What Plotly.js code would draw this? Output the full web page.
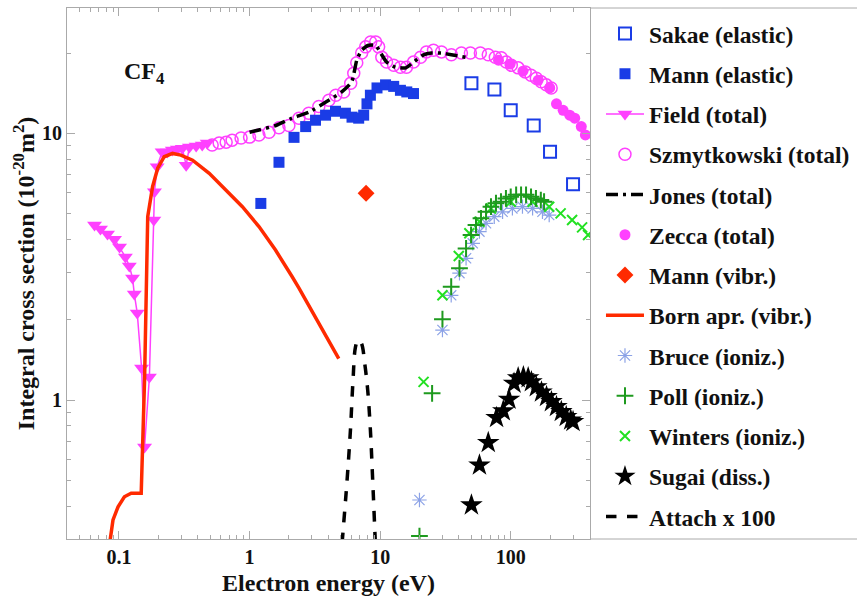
<!DOCTYPE html>
<html>
<head>
<meta charset="utf-8">
<script src="https://cdn.plot.ly/plotly-3.0.1.min.js"></script>
<style>html,body{margin:0;padding:0;background:#fff;}#chart{width:857px;height:596px;}</style>
</head>
<body>
<div id="chart"></div>
<script>
// ---- data (energy in eV, cross section in 1e-20 m^2) ----
const sakaeE = [50, 75, 100, 150, 200, 300];
const sakaeS = [15.4, 14.6, 12.2, 10.7, 8.53, 6.45];

const mannElE = [1.22, 1.68, 2.19, 2.69, 3.20, 3.82, 4.55, 5.42, 6.09, 6.85, 7.48, 7.93, 8.42, 9.46, 11.0, 12.7, 14.3, 16.0, 18.0];
const mannElS = [5.46, 7.79, 9.66, 10.6, 11.2, 11.7, 12.1, 11.9, 11.5, 11.4, 11.7, 12.9, 13.9, 14.8, 15.2, 15.0, 14.5, 14.3, 14.1];

const fieldE = [0.065, 0.0722, 0.0817, 0.0924, 0.101, 0.112, 0.120, 0.127, 0.131, 0.138, 0.149, 0.157, 0.171, 0.185, 0.187, 0.196, 0.214, 0.235, 0.256, 0.280, 0.305, 0.327, 0.346, 0.390, 0.434, 0.474];
const fieldS = [4.53, 4.38, 4.19, 4.01, 3.75, 3.44, 3.18, 2.87, 2.50, 2.12, 1.32, 0.667, 1.22, 4.73, 6.04, 7.50, 8.53, 8.51, 8.66, 8.73, 8.80, 7.6, 8.88, 8.96, 9.04, 9.20];

const szmE = [0.517, 0.585, 0.662, 0.735, 0.861, 1.0, 1.18, 1.41, 1.68, 2.0, 2.39, 2.84, 3.39, 4.05, 4.57, 5.26, 5.95, 6.28, 6.62, 7.22, 7.75, 8.46, 9.24, 9.74, 10.3, 11.2, 12.7, 14.3, 15.9, 18.0, 20.4, 22.6, 25.6, 29.5, 35.1, 41.9, 49.1, 58.5, 67.3, 76.2, 84.6, 92.4, 101, 114, 129, 143, 157, 171, 187, 204];
const szmS = [9.04, 9.20, 9.27, 9.43, 9.60, 9.68, 9.86, 10.1, 10.5, 10.7, 11.4, 11.9, 12.6, 13.3, 13.9, 14.3, 15.4, 16.8, 18.4, 20.0, 21.1, 22.0, 22.0, 21.1, 19.3, 18.5, 18.0, 17.7, 17.7, 18.5, 19.3, 20.2, 20.5, 20.2, 19.7, 20.0, 20.0, 20.0, 19.7, 19.3, 19.2, 18.5, 18.0, 17.6, 17.0, 16.5, 16.1, 15.6, 15.2, 14.8];

const jonesE = [1.0, 1.18, 1.59, 2.11, 2.84, 3.84, 5.08, 6.06, 6.62, 7.22, 8.17, 9.24, 10.1, 11.2, 13.1, 15.7, 18.0, 21.5, 24.7, 29.5, 35.1, 45.0];
const jonesS = [10.1, 10.3, 10.7, 11.4, 12.0, 13.1, 14.3, 15.6, 18.8, 20.5, 21.4, 21.4, 20.0, 18.5, 17.7, 17.6, 18.5, 19.7, 20.0, 20.0, 19.7, 19.3];

const zeccaE = [80.6, 99, 124, 162, 199, 224, 252, 283, 309, 347, 373];
const zeccaS = [18.8, 18.2, 17.1, 15.8, 14.8, 12.9, 12.2, 11.7, 11.4, 10.6, 9.86];

const mannVibE = [7.8];
const mannVibS = [5.96];

const bornE = [0.0857, 0.090, 0.0984, 0.110, 0.124, 0.148, 0.157, 0.163, 0.166, 0.181, 0.198, 0.222, 0.257, 0.298, 0.366, 0.491, 0.658, 0.881, 1.18, 1.58, 2.12, 2.39, 4.82];
const bornS = [0.30, 0.355, 0.398, 0.434, 0.447, 0.447, 1.19, 2.82, 4.87, 6.32, 7.40, 8.17, 8.41, 8.29, 7.93, 7.08, 6.13, 5.31, 4.47, 3.65, 2.90, 2.63, 1.43];

const bruceE = [20, 30, 35, 40.5, 45.5, 51.2, 57.6, 64.7, 74.8, 86.6, 103, 123, 147, 175, 197];
const bruceS = [0.422, 1.83, 2.47, 2.99, 3.40, 3.87, 4.28, 4.60, 4.87, 5.08, 5.23, 5.31, 5.23, 5.08, 4.94];

const pollE = [20, 25, 30, 35, 40.5, 45.5, 49.7, 54.2, 59.2, 64.7, 70.6, 77.1, 84.2, 91.9, 100, 110, 120, 131, 143, 156, 170, 180];
const pollS = [0.309, 1.06, 2.01, 2.66, 3.12, 3.70, 4.16, 4.53, 4.80, 5.08, 5.31, 5.47, 5.54, 5.70, 5.78, 5.88, 5.88, 5.88, 5.78, 5.70, 5.62, 5.54];

const wintersE = [21.5, 30, 40, 48.2, 57.6, 70.6, 100, 147, 197, 241, 295, 352, 391];
const wintersS = [1.17, 2.47, 3.47, 4.22, 4.66, 5.23, 5.54, 5.54, 5.31, 5.01, 4.73, 4.44, 4.16];

const sugaiE = [50, 57.6, 67.3, 77.9, 87.7, 97, 106, 114, 125, 136, 144, 157, 172, 188, 205, 224, 244, 266, 288, 300];
const sugaiS = [0.404, 0.570, 0.692, 0.859, 0.91, 1.006, 1.155, 1.21, 1.22, 1.21, 1.17, 1.12, 1.07, 1.03, 0.985, 0.944, 0.904, 0.866, 0.841, 0.83];

const attachE = [5.11, 5.58, 5.92, 6.20, 6.47, 6.77, 7.19, 7.62, 8.03, 8.42, 8.77, 9.19];
const attachS = [0.29, 0.50, 0.77, 1.19, 1.58, 1.68, 1.63, 1.37, 1.09, 0.772, 0.50, 0.29];

const names = ['Sakae (elastic)', 'Mann (elastic)', 'Field (total)', 'Szmytkowski (total)', 'Jones (total)', 'Zecca (total)', 'Mann (vibr.)', 'Born apr. (vibr.)', 'Bruce (ioniz.)', 'Poll (ioniz.)', 'Winters (ioniz.)', 'Sugai (diss.)', 'Attach x 100'];

// ---- styles ----
const BLUE = '#1a3ce6', MAG = '#ff40ff', RED = '#ff2a00', DKGREEN = '#1e9a1e', LTGREEN = '#22e022', LTBLUE = '#8ca2e6';
const FONT = 'Liberation Serif';

function tr(i, x, y, extra) {
  return Object.assign({x: x, y: y, name: names[i], legendrank: i + 1, legendgroup: 'g' + i, type: 'scatter'}, extra);
}

const traces = [
  tr(3, szmE, szmS, {mode: 'markers', marker: {symbol: 'circle-open', size: 12, color: MAG, line: {width: 1.5, color: MAG}}}),
  tr(5, zeccaE, zeccaS, {mode: 'markers', marker: {symbol: 'circle', size: 11, color: MAG}}),
  tr(2, fieldE, fieldS, {mode: 'lines+markers', line: {color: MAG, width: 1.5}, marker: {symbol: 'triangle-down', size: 13, color: MAG}}),
  tr(4, jonesE, jonesS, {mode: 'lines', line: {color: '#000', width: 3.5, dash: '12px,5px,3px,5px', shape: 'spline', smoothing: 0.5}}),
  tr(7, bornE, bornS, {mode: 'lines', line: {color: RED, width: 3.5}}),
  tr(1, mannElE, mannElS, {mode: 'markers', marker: {symbol: 'square', size: 11, color: BLUE}}),
  tr(0, sakaeE, sakaeS, {mode: 'markers', marker: {symbol: 'square-open', size: 12, color: BLUE, line: {width: 2, color: BLUE}}}),
  tr(6, mannVibE, mannVibS, {mode: 'markers', marker: {symbol: 'diamond', size: 13, color: RED}}),
  tr(8, bruceE, bruceS, {mode: 'markers', marker: {symbol: 'asterisk-open', size: 12, color: LTBLUE, line: {width: 1.2, color: LTBLUE}}}),
  tr(10, wintersE, wintersS, {mode: 'markers', marker: {symbol: 'x-thin-open', size: 10, color: LTGREEN, line: {width: 2, color: LTGREEN}}}),
  tr(9, pollE, pollS, {mode: 'markers', marker: {symbol: 'cross-thin-open', size: 12, color: DKGREEN, line: {width: 2, color: DKGREEN}}}),
  tr(11, sugaiE, sugaiS, {mode: 'markers', marker: {symbol: 'star', size: 17, color: '#000'}}),
  tr(12, attachE, attachS, {mode: 'lines', line: {color: '#000', width: 3.5, dash: 'dash', shape: 'spline'}})
];

const axisCommon = {
  type: 'log', dtick: 1, ticks: 'inside', ticklen: 8, tickcolor: '#aaa', tickwidth: 1,
  showline: true, linecolor: '#aaa', linewidth: 1, mirror: 'ticks',
  showgrid: false, zeroline: false,
  minor: {ticks: 'inside', ticklen: 4, tickcolor: '#aaa', showgrid: false},
  tickfont: {family: FONT, size: 20, weight: 'bold', color: '#111'}
};

const layout = {
  width: 857, height: 596,
  margin: {l: 67, r: 267, t: 8, b: 57, autoexpand: false},
  paper_bgcolor: '#fff', plot_bgcolor: '#fff',
  font: {family: FONT, size: 23, weight: 'bold', color: '#111'},
  showlegend: true,
  xaxis: Object.assign({}, axisCommon, {
    range: [-1.398, 2.607],
    title: {text: 'Electron energy (eV)', font: {family: FONT, size: 24, weight: 'bold', color: '#111'}, standoff: 8}
  }),
  yaxis: Object.assign({}, axisCommon, {
    range: [-0.521, 1.470],
    title: {text: 'Integral cross section (10<sup>-20</sup>m<sup>2</sup>)', font: {family: FONT, size: 24, weight: 'bold', color: '#111'}, standoff: 0}
  }),
  legend: {
    x: 1.021, xanchor: 'left', y: 0.993, yanchor: 'top',
    traceorder: 'grouped', tracegroupgap: 6.7, itemwidth: 38,
    bgcolor: 'rgba(0,0,0,0)',
    font: {family: FONT, size: 23.5, weight: 'bold', color: '#111'}
  },
  annotations: [{
    xref: 'paper', yref: 'paper', x: 0.149, y: 0.8776, xanchor: 'center', yanchor: 'middle',
    text: 'CF<sub>4</sub>', showarrow: false,
    font: {family: FONT, size: 24, weight: 'bold', color: '#111'}
  }],
  shapes: [
    {type: 'line', xref: 'paper', yref: 'paper', x0: 1, x1: 1.52, y0: 1, y1: 1, line: {color: '#aaa', width: 1}},
    {type: 'line', xref: 'paper', yref: 'paper', x0: 1, x1: 1.52, y0: 0, y1: 0, line: {color: '#aaa', width: 1}}
  ]
};

Plotly.newPlot('chart', traces, layout, {displayModeBar: false, staticPlot: true});
</script>
</body>
</html>
